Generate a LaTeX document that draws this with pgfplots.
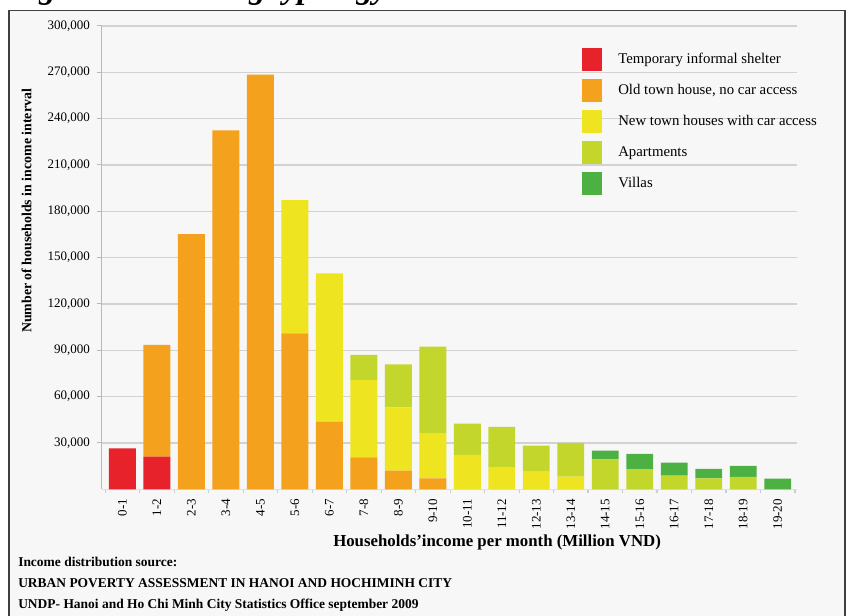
\documentclass[border=0pt]{standalone}
\usepackage{fontspec}
\setmainfont{Liberation Serif}
\usepackage{pgfplots}
\usepackage{pgfplotstable}
\pgfplotsset{compat=1.18}

\definecolor{cShelter}{HTML}{E8222B}
\definecolor{cOld}{HTML}{F4A11D}
\definecolor{cNew}{HTML}{EEE41F}
\definecolor{cApt}{HTML}{C3D62B}
\definecolor{cVilla}{HTML}{4DB043}
\definecolor{cGrid}{HTML}{D2D2D2}
\definecolor{cBg}{HTML}{F7F7F7}

% households per income interval, split by housing type
\pgfplotstableread{
x  shelter old    new   apt   villa
0  26500   0      0     0     0
1  21100   72400  0     0     0
2  0       165300 0     0     0
3  0       232400 0     0     0
4  0       268500 0     0     0
5  0       101000 86200 0     0
6  0       43800  96000 0     0
7  0       20700  50000 16300 0
8  0       12100  41000 27800 0
9  0       7100   29300 56000 0
10 0       0      22200 20400 0
11 0       0      14300 26100 0
12 0       0      11400 16800 0
13 0       0      8200  21800 0
14 0       0      0     19400 5600
15 0       0      0     13000 9900
16 0       0      0     8800  8400
17 0       0      0     7100  6100
18 0       0      0     8000  7100
19 0       0      0     0     6900
}\housing

\begin{document}
\begin{tikzpicture}
\begin{scope}[x=0.75pt,y=-0.75pt]
  \useasboundingbox (0,0) rectangle (850,616);
  \fill[white] (0,0) rectangle (850,616);
  \fill[cBg] (9,10.7) rectangle (845,620);
  \draw[black!75, line width=0.8pt] (9,620) -- (9,10.7) -- (845,10.7) -- (845,620);
  \node[anchor=base west, inner sep=0pt, font=\fontsize{24.75pt}{28pt}\selectfont\bfseries\itshape]
    at (8,-1) {Figure 2: Housing typology};
\end{scope}

\begin{axis}[
  at={(76.275pt,-366.975pt)}, anchor=south west,
  scale only axis, width=521.5pt, height=347.5pt,
  ybar stacked, bar width=0.78,
  xmin=-0.6, xmax=19.56, ymin=0, ymax=300000,
  axis lines*=left,
  axis line style={draw=gray!55, line width=0.8pt},
  x axis line style={draw=gray!25},
  ymajorgrids, major grid style={draw=cGrid, line width=1.1pt},
  ytick={30000,60000,...,300000},
  scaled y ticks=false,
  y tick label style={/pgf/number format/fixed, /pgf/number format/1000 sep={,},
    /pgf/number format/assume math mode=true,
    font=\fontsize{9.75pt}{11pt}\selectfont, xshift=-1.5pt},
  tick align=outside, major tick length=3.75pt, minor tick length=3pt,
  tick style={draw=gray!55, line width=0.8pt},
  xtick={0,...,19},
  xticklabels={0-1,1-2,2-3,3-4,4-5,5-6,6-7,7-8,8-9,9-10,10-11,11-12,12-13,13-14,14-15,15-16,16-17,17-18,18-19,19-20},
  minor xtick={-0.5,0.5,...,19.5},
  every major x tick/.append style={draw=none},
  every minor x tick/.append style={draw=blue!15!gray!35},
  x tick label style={rotate=90, anchor=east, font=\fontsize{9.75pt}{11pt}\selectfont},
  legend style={at={(0.6908,0.9525)}, anchor=north west, draw=none, fill=none,
    inner xsep=0pt, inner ysep=0pt, row sep=6pt, column sep=10pt,
    font=\fontsize{11.1pt}{13pt}\selectfont},
  legend cell align=left,
  legend image code/.code={\fill[#1] (0pt,-8.6pt) rectangle (15pt,8.6pt);},
]
\addplot[fill=cShelter, draw=none] table[x=x, y=shelter]{\housing};
\addlegendentry{Temporary informal shelter}
\addplot[fill=cOld, draw=none] table[x=x, y=old]{\housing};
\addlegendentry{Old town house, no car access}
\addplot[fill=cNew, draw=none] table[x=x, y=new]{\housing};
\addlegendentry{New town houses with car access}
\addplot[fill=cApt, draw=none] table[x=x, y=apt]{\housing};
\addlegendentry{Apartments}
\addplot[fill=cVilla, draw=none] table[x=x, y=villa]{\housing};
\addlegendentry{Villas}
\end{axis}

\begin{scope}[x=0.75pt,y=-0.75pt]
  \node[rotate=90, inner sep=0pt, font=\fontsize{10.4pt}{12pt}\selectfont\bfseries]
    at (26.7,211) {Number of households in income interval};
  \node[anchor=base west, inner sep=0pt, font=\fontsize{12.6pt}{14pt}\selectfont\bfseries]
    at (333,546.7) {Households’income per month (Million VND)};
  \begin{scope}[every node/.style={anchor=base west, inner sep=0pt,
      font=\fontsize{10.1pt}{12pt}\selectfont\bfseries}]
    \node at (18,566.7) {Income distribution source:};
    \node at (18,587.7) {URBAN POVERTY ASSESSMENT IN HANOI AND HOCHIMINH CITY};
    \node at (18,608.5) {UNDP- Hanoi and Ho Chi Minh City Statistics Office september 2009};
  \end{scope}
\end{scope}
\end{tikzpicture}
\end{document}
